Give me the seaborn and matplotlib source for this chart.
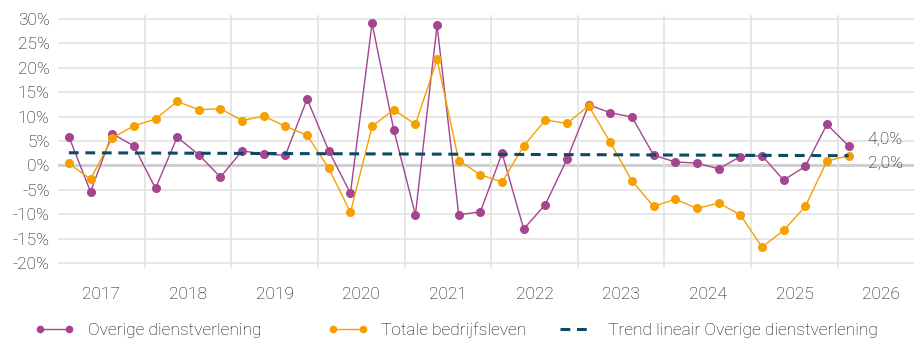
import numpy as np
import pandas as pd
import matplotlib
matplotlib.use("Agg")
import matplotlib.pyplot as plt
import seaborn as sns

# Kwartalen 2017 K1 t/m 2026 K1
jaren = list(range(2017, 2027))
kwartalen = [f"{j}K{k}" for j in jaren for k in range(1, 5)][:37]

overige = [5.9, -5.4, 6.5, 4.0, -4.7, 5.8, 2.2, -2.4, 3.0, 2.3, 2.1, 13.6,
           3.0, -5.7, 29.1, 7.3, -10.1, 28.7, -10.1, -9.5, 2.5, -13.0, -8.0, 1.3,
           12.4, 10.8, 9.9, 2.1, 0.7, 0.5, -0.7, 1.8, 2.0, -3.0, -0.2, 8.4, 4.0]
totaal = [0.4, -2.8, 5.6, 8.1, 9.5, 13.1, 11.4, 11.6, 9.2, 10.1, 8.0, 6.2,
          -0.6, -9.6, 8.0, 11.4, 8.4, 21.7, 1.0, -1.9, -3.4, 4.0, 9.3, 8.6,
          12.2, 4.7, -3.2, -8.4, -6.9, -8.8, -7.7, -10.1, -16.7, -13.3, -8.4, 0.9, 2.0]

trend = [2.6, 2.0]

reeks_namen = ["Overige dienstverlening", "Totale bedrijfsleven"]
trend_naam = "Trend lineair Overige dienstverlening"
kleuren = ["#a5448f", "#f5a000"]
trend_kleur = "#0c4a66"
tekst_kleur = "#0a0a0a"

# x-positie: midden van het kwartaal
x = np.array([int(k[:4]) + (int(k[-1]) - 0.5) / 4 for k in kwartalen])

df = pd.DataFrame({
    "x": np.concatenate([x, x]),
    "waarde": overige + totaal,
    "reeks": [reeks_namen[0]] * len(x) + [reeks_namen[1]] * len(x),
})

sns.set_style("white")
plt.rcParams["font.family"] = ["Roboto", "DejaVu Sans"]
plt.rcParams["font.weight"] = "light"

fig = plt.figure(figsize=(9.14, 3.41), dpi=100)
ax = fig.add_axes([0.0635, 0.214, 0.9365, 0.742])

# Rasterlijnen
for v in range(-20, 31, 5):
    if v == 0:
        ax.axhline(v, color="#d0d0d0", lw=2.2, zorder=0)
    else:
        ax.axhline(v, color="#e3e3e3", lw=1.2, zorder=0)
for j in jaren[1:]:
    ax.axvline(j, color="#e3e3e3", lw=1.2, zorder=0)

sns.lineplot(data=df, x="x", y="waarde", hue="reeks", palette=kleuren,
             hue_order=reeks_namen, marker="o", markersize=6.5,
             markeredgewidth=0, linewidth=1.0, ax=ax, zorder=3, legend=False)

ax.plot([x[0], x[-1]], trend, color=trend_kleur, lw=2.2, ls=(0, (3.2, 2.2)),
        zorder=4)

# Labels bij laatste waarden
ax.annotate(f"{overige[-1]:.1f}%".replace(".", ","), xy=(x[-1], overige[-1]),
            xytext=(19, 7), textcoords="offset pixels", va="center",
            fontsize=12.5, color=tekst_kleur)
ax.annotate(f"{totaal[-1]:.1f}%".replace(".", ","), xy=(x[-1], totaal[-1]),
            xytext=(19, -7), textcoords="offset pixels", va="center",
            fontsize=12.5, color=tekst_kleur)

ax.set_xlim(2017, 2026.88)
ax.set_ylim(-21, 30.8)
ax.set_yticks(range(-20, 31, 5))
ax.set_yticklabels([f"{v}%" for v in range(-20, 31, 5)])
ax.set_xticks([j + 0.5 for j in jaren])
ax.set_xticklabels([str(j) for j in jaren])
ax.tick_params(axis="both", length=0, labelsize=12.5, labelcolor=tekst_kleur)
ax.tick_params(axis="x", pad=14)
ax.tick_params(axis="y", pad=6)
ax.set_xlabel("")
ax.set_ylabel("")
for s in ax.spines.values():
    s.set_visible(False)

# Legenda: drie losse items op eigen positie
legenda = [
    (plt.Line2D([], [], color=kleuren[0], lw=1.0, marker="o", ms=5.5, mew=0),
     reeks_namen[0], 0.038),
    (plt.Line2D([], [], color=kleuren[1], lw=1.0, marker="o", ms=5.5, mew=0),
     reeks_namen[1], 0.359),
    (plt.Line2D([], [], color=trend_kleur, lw=2.2, ls=(0, (3.2, 2.2))),
     trend_naam, 0.607),
]
for h, lab, xpos in legenda:
    leg = fig.legend([h], [lab], loc="center left", bbox_to_anchor=(xpos, 0.032),
                     frameon=False, fontsize=12.5, numpoints=2, borderpad=0,
                     borderaxespad=0, handlelength=2.3, handletextpad=0.75)
    for t in leg.get_texts():
        t.set_color(tekst_kleur)

fig.savefig("out.png", dpi=100)
